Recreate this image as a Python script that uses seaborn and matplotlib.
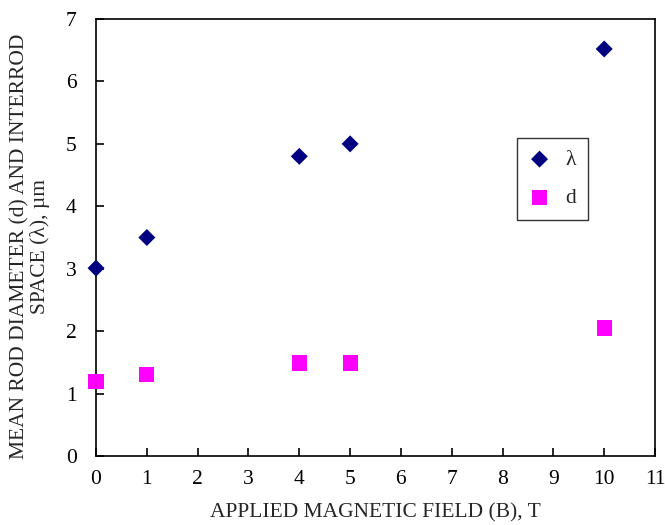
import matplotlib
matplotlib.use("Agg")
import matplotlib.pyplot as plt
import seaborn as sns
import pandas as pd

field_T = [0, 1, 4, 5, 10]
lambda_um = [3.01, 3.5, 4.8, 5.0, 6.52]
d_um = [1.19, 1.31, 1.49, 1.49, 2.05]

sns.set_theme(style="ticks")
plt.rcParams['font.family'] = ['Liberation Serif', 'DejaVu Serif']

fig = plt.figure(figsize=(6.65, 5.25), dpi=100)
ax = fig.add_axes([0.1444, 0.1314, 0.8406, 0.8324])

df_l = pd.DataFrame({"B": field_T, "v": lambda_um})
df_d = pd.DataFrame({"B": field_T, "v": d_um})

sns.scatterplot(data=df_l, x="B", y="v", ax=ax, marker="D", s=75, color="#000080",
                edgecolor="none", label="λ", clip_on=False, zorder=3)
sns.scatterplot(data=df_d, x="B", y="v", ax=ax, marker="s", s=120, color="#FF00FF",
                edgecolor="none", label="d", clip_on=False, zorder=3)

ax.set_xlim(0, 11)
ax.set_ylim(0, 7)
ax.set_xticks(range(0, 12))
ax.set_yticks(range(0, 8))
ax.tick_params(direction="in", length=6, width=1.2, labelsize=15.5, colors="black")
ax.tick_params(axis="x", pad=10)
ax.tick_params(axis="y", pad=14)
for sp in ax.spines.values():
    sp.set_linewidth(1.2)
    sp.set_color("black")
    sp.set_visible(True)

ax.set_xlabel("APPLIED MAGNETIC FIELD (B), T", fontsize=15.5, labelpad=10)
ax.set_ylabel("MEAN ROD DIAMETER (d) AND INTERROD\nSPACE (λ), µm", fontsize=15.5,
              linespacing=1.0)
ax.yaxis.set_label_coords(-0.083, 0.48)

leg = ax.legend(loc="upper left", bbox_to_anchor=(0.753, 0.728), borderaxespad=0,
                frameon=True, fancybox=False, edgecolor="black", fontsize=15.5,
                handletextpad=0.7, labelspacing=0.85, borderpad=0.55, handlelength=1.0)
leg.get_frame().set_linewidth(1.0)

fig.savefig("out.png", dpi=100)
